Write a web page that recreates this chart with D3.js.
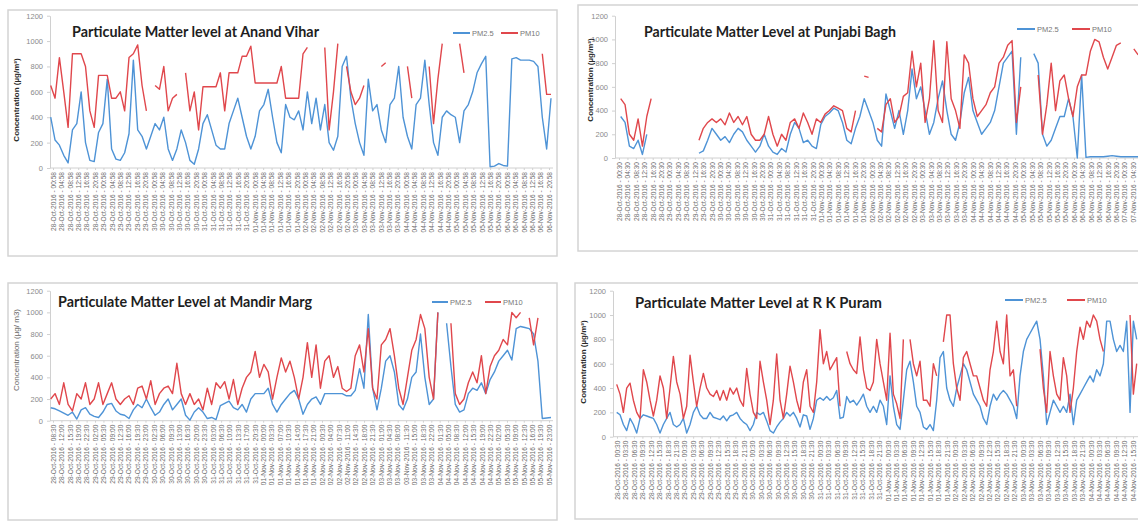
<!DOCTYPE html>
<html>
<head>
<meta charset="utf-8">
<script src="https://cdn.jsdelivr.net/npm/d3@7"></script>
<style>
  body { margin: 0; background: #fff; }
  svg { display: block; font-family: 'Liberation Sans', Arial, sans-serif; }
</style>
</head>
<body>
<svg width="1138" height="521"></svg>
<script>
const width = 1138;
const height = 521;
const yTicks = [0, 200, 400, 600, 800, 1000, 1200];
const seriesNames = ['PM2.5', 'PM10'];
const seriesColors = ['#4e93d6', '#e0474c'];

const titles = [
    'Particulate Matter level at Anand Vihar',
    'Particulate Matter Level at Punjabi Bagh',
    'Particulate Matter Level at Mandir Marg',
    'Particulate Matter Level at R K Puram'
];
const yTitles = [
    'Concentration (µg/m³)',
    'Concentration (µg/m³)',
    'Concentration (µg/ m3)',
    'Concentration (µg/m³)'
];
// x tick labels: first label, hours between labels, number of labels
const labelStarts = ['2016-10-28 00:58', '2016-10-28 00:30', '2016-10-28 08:30', '2016-10-28 00:30'];
const labelSteps = [4, 4, 3.5, 3];
const labelCounts = [60, 62, 60, 62];

// Anand Vihar
const anandPm25 = [
    400, 220, 180, 100, 40, 300, 350, 600, 200, 60,
    50, 280, 350, 700, 150, 70, 60, 120, 270, 850,
    300, 250, 150, 250, 350, 300, 400, 150, 60, 150,
    300, 200, 60, 30, 150, 350, 420, 300, 180, 150,
    150, 350, 450, 550, 400, 250, 150, 250, 450, 500,
    620, 400, 200, 120, 500, 400, 380, 450, 300, 600,
    350, 550, 300, 500, 200, 140, 250, 800, 880, 550,
    350, 200, 100, 700, 450, 500, 300, 200, 500, 550,
    800, 400, 250, 150, 500, 550, 850, 500, 200, 100,
    400, 450, 420, 400, 200, 450, 500, 600, 750, 820,
    880, 10, 15, 35, 20, 15, 860, 870, 850, 850,
    850, 840, 800, 400, 150, 550
];
const anandPm10 = [
    650, 550, 870, 600, 320, 900, 900, 900, 800, 450,
    320, 730, 730, 730, 550, 550, 600, 450, 870, 900,
    970, 650, 450, null, 650, 620, 800, 450, 550, 580,
    null, 750, 450, 600, 300, 640, 640, 640, 640, 750,
    450, 750, 750, 750, 880, 880, 960, 670, 670, 670,
    670, 670, 670, 800, 550, 550, 550, 550, 900, 950,
    null, null, null, 950, 300, 600, 980, null, 800, 600,
    500, 550, 650, null, null, null, 800, 830, null, null,
    null, null, 800, 550, null, null, null, 800, 350, 700,
    980, null, null, null, 980, 750, null, null, null, null,
    null, null, null, null, null, null, null, null, null, null,
    null, null, null, 900, 580, 580
];

// Punjabi Bagh
const punjabiPm25 = [
    350, 300, 100, 80, 150, 30, 200, null, null, null,
    null, null, null, null, null, null, null, null, 40, 60,
    150, 250, 200, 150, 180, 130, 200, 250, 220, 150,
    100, 50, 100, 200, 100, 50, 30, 80, 50, 200,
    300, 250, 130, 150, 100, 80, 280, 350, 380, 420,
    400, 300, 150, 120, 250, 350, 500, 400, 300, 150,
    100, 540, 400, 250, 400, 200, 400, 750, 500, 600,
    400, 200, 300, 500, 650, 400, 200, 150, 300, 550,
    680, 400, 300, 200, 250, 300, 400, 600, 800, 850,
    900, 200, 850, null, null, 880, 800, 200, 100, 150,
    250, 350, 350, 500, 350, 0, 700, 5, 10, 10,
    10, 10, 15, 20, 15, 10, 10, 10, 10, 10,
    10, 10, 10, 10, 10, 10, 10, 10, 10, 10, 10
];
const punjabiPm10 = [
    500, 450, 200, 150, 330, 100, 350, 500, null, null,
    null, null, null, null, null, null, null, null, 150, 250,
    300, 330, 300, 330, 280, 380, 300, 350, 280, 350,
    200, 150, 150, 200, 350, 200, 100, 200, 150, 300,
    330, 250, 380, 300, 200, 330, 300, 370, 400, 440,
    420, 400, 250, 220, 400, null, 690, 680, null, 250,
    220, 450, 500, 300, 350, 520, 550, 900, 600, 800,
    300, 500, 990, 400, 300, 980, 500, 400, 250, 870,
    800, 500, 350, 400, 450, 550, 600, 800, 850, 950,
    990, 300, 600, null, null, null, 700, 200, 450, 800,
    400, 650, 700, 500, 350, 600, 700, 700, 900, 1000,
    980, 850, 750, 850, 950, 970, null, null, 920, 870,
    null, null, null, null, null, null, null, null, null, null, null
];

// Mandir Marg
const mandirPm25 = [
    120, 110, 90, 70, 50, 80, 15, 100, 120, 60,
    40, 30, 80, 150, 160, 90, 60, 50, 20, 100,
    150, 120, 200, 120, 50, 80, 150, 200, 100, 150,
    200, 50, 5, 80, 120, 80, 20, 30, 10, 140,
    160, 180, 120, 100, 150, 80, 200, 250, 250, 250,
    300, 150, 80, 150, 200, 250, 280, 200, 60, 150,
    200, 220, 150, 250, 250, 250, 250, 250, 230, 230,
    280, 480, 300, 980, 300, 100, 300, 550, 600, 450,
    150, 100, 200, 400, 450, 800, 400, 150, 200, 1000,
    null, 900, 500, 150, 80, 100, 250, 300, 280, 350,
    250, 380, 450, 550, 600, 650, 560, 850, 870, 860,
    850, 800, 550, 20, 25, 30
];
const mandirPm10 = [
    200, 250, 150, 350, 150, 90, 250, 200, 350, 150,
    200, 350, 150, 250, 350, 200, 150, 200, 230, 150,
    300, 320, 200, 370, 150, 250, 300, 320, 250, 530,
    250, 150, 250, 150, 200, 100, 300, 150, 350, 300,
    360, 200, 380, 150, 300, 400, 450, 640, 400, 520,
    450, 200, 400, 580, 450, 550, 400, 200, 400, 720,
    400, 700, 300, 550, 600, 400, 500, 300, 270, 300,
    600, 700, 450, 850, 300, 200, 700, 750, 850, 600,
    300, 150, 400, 650, 750, 980, 850, 400, 200, 1000,
    null, null, 900, 250, 150, 200, 350, 450, 350, 600,
    250, 500, 600, 650, 750, 700, 1000, 950, 1000, null,
    950, 700, 950, null, null, null
];

// R K Puram
const rkPm25 = [
    200, 180, 100, 50, 150, 100, 30, 150, 180, 170,
    160, 150, 100, 30, 100, 150, 200, 100, 80, 100,
    150, 30, 100, 200, 250, 180, 150, 150, 200, 160,
    150, 140, 170, 130, 170, 180, 200, 150, 120, 100,
    50, 100, 200, 180, 200, 130, 50, 30, 80, 120,
    150, 200, 170, 200, 150, 80, 180, 170, 60, 150,
    300, 320, 300, 330, 300, 320, 380, 150, 160, 330,
    280, 300, 260, 300, 350, 250, 200,
    250, 200, 300, 250, 100, 500, 250, 100, 60, 300,
    550, 620, 450, 250, 200, 80, 60, 100, 50, 300,
    650, 700, 400, 300, 250, 400, 500, 600, 550, 450,
    350, 300, 250, 150, 100, 250, 350, 300, 350, 380,
    350, 300, 250, 150, 500, 700, 800, 850, 900, 950,
    800, 500, 100, 200, 300, 250, 200, 250, 200, 350,
    100, 300, 350, 400, 450, 500, 450, 550, 500, 600,
    950, 950, 800, 700, 750, 700, 950, 200, 950, 800
];
const rkPm10 = [
    430, 350, 200, 400, 440, 300, 200, 150, 550, 450,
    300, 170, 300, 500, 400, 150, 400, 660, 450, 350,
    150, 250, 670, 450, 250, 400, 520, 400, 350, 330,
    380, 300, 380, 300, 400, 350, 400, 300, 250, 560,
    350, 200, 150, 620, 450, 300, 100, 300, 680, 300,
    150, 350, 580, 450, 300, 200, 450, 550, 250, 200,
    450, 880, 600, 700, 550, 600, 650, 250, null, 700,
    600, 550, 520, 820, 550, 400, 380,
    450, 800, 600, 450, 300, 850, 350, 270, 150, 800,
    null, 800, 600, 500, 620, 300, 300, 250, 600, 500,
    null, 780, 1000, 1000, 600, 400, 300, 650, 700, 600,
    500, 500, 400, 300, 250, 550, 700, 950, 700, 600,
    1000, 500, 550, 250, null, null, null, null, null, null,
    720, 400, 200, 700, 500, 350, 300, 650, 500, 200,
    400, 700, 900, 800, 950, 900, 1000, 950, 800, 700,
    null, null, null, null, null, null, null, 1000, 350, 600
];

const panelSeries = [
    [anandPm25, anandPm10],
    [punjabiPm25, punjabiPm10],
    [mandirPm25, mandirPm10],
    [rkPm25, rkPm10]
];

// layout of each screenshot panel on the page
const layouts = [
    { box: [8, 10, 557, 256], plotX: [50.7, 551], axisX: 50, yPix: [168, 15.7], labelX: [53, 549],
      title: [72, 37, 247], legend: [453, 33, 48, 17], yTitle: [16, 100], yTitleBold: true },
    { box: [578, 5, 1160, 251], plotX: [620.7, 1186], axisX: 615, yPix: [158, 15.7], labelX: [619, 1133],
      title: [644, 37, 252], legend: [1017, 29, 55, 18], yTitle: [590, 80], yTitleBold: true },
    { box: [8, 283, 557, 520], plotX: [50.7, 551], axisX: 50, yPix: [420.7, 290.7], labelX: [53, 549],
      title: [58, 307, 254], legend: [432, 302, 53, 16], yTitle: [16, 350], yTitleBold: false },
    { box: [575, 283, 1160, 519], plotX: [616.7, 1136.7], axisX: 613, yPix: [436.7, 290.7], labelX: [617, 1133],
      title: [635, 308, 247], legend: [1005, 300, 62, 18], yTitle: [583, 362], yTitleBold: true }
];

const svg = d3.select('svg')
    .attr('width', width)
    .attr('height', height);

const parseTime = d3.timeParse('%Y-%m-%d %H:%M');
const formatTime = d3.timeFormat('%d-%b-%Y - %H:%M');

layouts.forEach((L, p) => drawPanel(L, p));

function drawPanel(L, p) {
    const g = svg.append('g').classed('panel', true);
    const [bx0, by0, bx1, by1] = L.box;

    g.append('rect')
        .attr('x', bx0)
        .attr('y', by0)
        .attr('width', bx1 - bx0)
        .attr('height', by1 - by0)
        .attr('fill', '#fff')
        .attr('stroke', '#d4d4d4')
        .attr('stroke-width', 1.5);

    const [pm25, pm10] = panelSeries[p];
    const n = pm25.length;

    const x = d3.scaleLinear()
        .domain([0, n - 1])
        .range(L.plotX);
    const y = d3.scaleLinear()
        .domain([0, 1200])
        .range(L.yPix);

    // y axis
    const yAxis = g.append('g')
        .attr('transform', `translate(${L.axisX},0)`)
        .call(d3.axisLeft(y)
            .tickValues(yTicks)
            .tickFormat(d3.format('d'))
            .tickSize(3)
            .tickPadding(4)
            .tickSizeOuter(0));
    yAxis.select('.domain').attr('stroke', '#d0d0d0');
    yAxis.selectAll('line').attr('stroke', '#d0d0d0');
    yAxis.selectAll('text')
        .attr('fill', '#8a8a8a')
        .style('font-size', '7.5px');

    // x axis baseline and date labels
    g.append('line')
        .attr('x1', L.axisX)
        .attr('x2', Math.min(L.plotX[1] + 2, width))
        .attr('y1', y(0))
        .attr('y2', y(0))
        .attr('stroke', '#d0d0d0');

    const start = parseTime(labelStarts[p]);
    const labels = d3.range(labelCounts[p])
        .map(i => formatTime(new Date(+start + i * labelSteps[p] * 3600e3)));
    const xl = d3.scalePoint()
        .domain(labels)
        .range(L.labelX);
    const xAxis = g.append('g')
        .attr('transform', `translate(0,${y(0)})`)
        .call(d3.axisBottom(xl).tickSize(2).tickSizeOuter(0));
    xAxis.select('.domain').remove();
    xAxis.selectAll('line').attr('stroke', '#d0d0d0');
    xAxis.selectAll('text')
        .attr('transform', 'rotate(-90)')
        .attr('text-anchor', 'end')
        .attr('x', -4)
        .attr('y', 0)
        .attr('dy', '0.35em')
        .attr('fill', '#6a6a6a')
        .style('font-size', '6.6px');

    // series
    const line = d3.line()
        .defined(d => d != null)
        .x((d, i) => x(i))
        .y(d => y(d));

    [pm25, pm10].forEach((values, s) => {
        g.append('path')
            .datum(values)
            .attr('d', line)
            .attr('fill', 'none')
            .attr('stroke', seriesColors[s])
            .attr('stroke-width', 1.4)
            .attr('stroke-linejoin', 'round');
    });

    // title
    g.append('text')
        .attr('x', L.title[0])
        .attr('y', L.title[1])
        .attr('textLength', L.title[2])
        .attr('lengthAdjust', 'spacingAndGlyphs')
        .style('font-family', 'Lato, sans-serif')
        .style('font-weight', 700)
        .style('font-size', '15px')
        .attr('fill', '#1e1e1e')
        .text(titles[p]);

    // y axis title
    g.append('text')
        .attr('transform', `translate(${L.yTitle[0]},${L.yTitle[1]}) rotate(-90)`)
        .attr('text-anchor', 'middle')
        .attr('dy', '0.35em')
        .style('font-size', '8px')
        .style('font-weight', L.yTitleBold ? 700 : 400)
        .attr('fill', L.yTitleBold ? '#2a2a2a' : '#666')
        .text(yTitles[p]);

    // legend
    const [lx, ly, step, len] = L.legend;
    const items = g.selectAll('.legend-item')
        .data(seriesNames)
        .enter()
        .append('g')
            .classed('legend-item', true)
            .attr('transform', (_, i) => `translate(${lx + i * step},${ly})`);
    items.append('line')
        .attr('x1', 0)
        .attr('x2', len)
        .attr('stroke', (_, i) => seriesColors[i])
        .attr('stroke-width', 2);
    items.append('text')
        .attr('x', len + 2)
        .attr('dy', '0.35em')
        .attr('fill', '#777')
        .style('font-size', '7.5px')
        .text(d => d);
}
</script>
</body>
</html>
